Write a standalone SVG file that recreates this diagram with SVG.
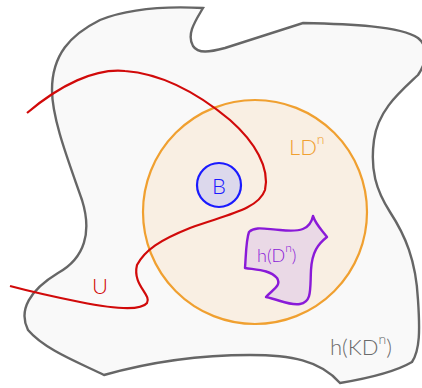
<svg xmlns="http://www.w3.org/2000/svg" width="422" height="388" viewBox="0 0 422 388">
<style>
text{font-family:Lato,"Open Sans","Liberation Sans",sans-serif;font-weight:300;}
.lbl{font-size:22px;}
</style>
<rect width="422" height="388" fill="#ffffff"/>
<g id="hKD">
<path d="M203,8 C196,20 186,34 193,46 C198,54 210,52 225,48 L303,23 C350,24 400,26 418,38 C428,46 428,60 418,75 C400,92 378,110 374,140 C370,170 376,190 390,212 C405,235 416,260 418,300 C420,330 420,350 412,362 C395,372 370,378 340,383 C320,360 290,355 250,355 C200,355 150,362 104,375 C80,363 45,350 28,330 C18,310 30,290 58,273 C85,258 92,232 82,200 C70,165 52,120 52,90 C52,55 70,35 100,20 C130,8 165,6 203,8 Z" fill="#f9f9f9" stroke="#666666" stroke-width="2.4"/>
<text class="lbl" x="330" y="355" fill="#6b6b6b">h(KD<tspan dy="-11" font-size="14">n</tspan><tspan dy="11">)</tspan></text>
</g>
<g id="LDn">
<circle cx="255" cy="212" r="112" fill="#f9efe3" stroke="#f0a030" stroke-width="2.2"/>
<text class="lbl" x="289" y="155" fill="#f0a030">LD<tspan dy="-11" font-size="14">n</tspan></text>
</g>
<g id="B">
<circle cx="219" cy="185" r="22" fill="#dcd8ec" stroke="#1a1aff" stroke-width="2.2"/>
<text class="lbl" x="219" y="194" text-anchor="middle" fill="#1a1aff">B</text>
</g>
<g id="hDn">
<path d="M313,216 C316,225 322,230 327,237 C318,244 312,252 311,270 C310,290 312,302 300,304 C290,306 280,300 266,297 C272,290 282,286 277,278 C270,270 258,270 245,268 C246,255 246,240 249,232 C255,226 265,229 280,230 C300,232 310,230 313,216 Z" fill="#ead9e6" stroke="#8a1ad8" stroke-width="2.4" stroke-linejoin="round"/>
<text x="257" y="262" font-size="18" fill="#8a1ad8">h(D<tspan dy="-10" font-size="12">n</tspan><tspan dy="10">)</tspan></text>
</g>
<g id="U">
<path d="M27,113 C60,85 95,68 125,71 C165,74 200,95 230,120 C255,142 270,168 265,190 C258,210 225,215 190,228 C160,240 145,250 137,265 C132,285 152,295 147,303 C140,312 110,308 80,302 C50,296 25,290 10,286" fill="none" stroke="#d10a0a" stroke-width="2.2"/>
<text class="lbl" x="92" y="294" fill="#d10a0a">U</text>
</g>
</svg>
